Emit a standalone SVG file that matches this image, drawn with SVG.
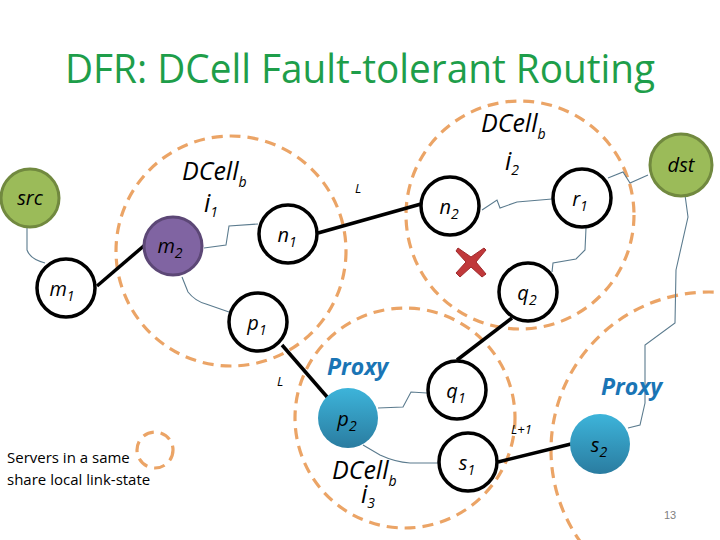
<svg xmlns="http://www.w3.org/2000/svg" width="720" height="540" viewBox="0 0 720 540">
<defs>
<linearGradient id="blueG" x1="0" y1="0" x2="0" y2="1">
<stop offset="0" stop-color="#3db4da"/>
<stop offset="1" stop-color="#2a7ca0"/>
</linearGradient>
<style>
.dash{fill:none;stroke:#eba466;stroke-width:3.2;stroke-dasharray:11 7}
.wire{fill:none;stroke:#5b7b8e;stroke-width:1.1}
.link{stroke:#000;stroke-width:3.5;fill:none}
.node{fill:#fff;stroke:#000;stroke-width:3.5}
.green{fill:#9bbb59;stroke:#71893f;stroke-width:3}
.purple{fill:#8064a2;stroke:#5c4776;stroke-width:3}
.blue{fill:url(#blueG)}
.lbl{font-family:"Open Sans","Liberation Sans",sans-serif;font-style:italic;font-size:20px;fill:#000}
.sub{font-size:14px}
.cell{font-family:"Open Sans","Liberation Sans",sans-serif;font-style:italic;font-size:25px;fill:#000}
.proxy{font-family:"Open Sans","Liberation Sans",sans-serif;font-style:italic;font-weight:bold;font-size:23px;fill:#1a75b5}
.small{font-family:"Open Sans","Liberation Sans",sans-serif;font-style:italic;font-size:13px;fill:#000}
.note{font-family:"Open Sans","Liberation Sans",sans-serif;font-size:15px;fill:#000}
</style>
</defs>
<rect width="720" height="540" fill="#fff"/>
<text x="360" y="83" text-anchor="middle" font-family="'Open Sans','Liberation Sans',sans-serif" font-size="40" fill="#1e9e4a" textLength="590" lengthAdjust="spacingAndGlyphs">DFR: DCell Fault-tolerant Routing</text>

<g id="cells">
<circle class="dash" cx="231" cy="251" r="115"/>
<circle class="dash" cx="520" cy="215" r="114"/>
<circle class="dash" cx="405" cy="418" r="110"/>
<circle class="dash" cx="709" cy="450" r="158"/>
<circle class="dash" cx="155" cy="450" r="18" stroke-dasharray="8 5"/>
</g>

<g id="connectors">
<line class="link" x1="97" y1="286" x2="146" y2="244"/>
<line class="link" x1="318" y1="233" x2="421" y2="204"/>
<line class="link" x1="282" y1="345" x2="328" y2="398"/>
<line class="link" x1="457" y1="360" x2="512" y2="318"/>
<line class="link" x1="498" y1="462" x2="571" y2="444"/>
<path class="wire" d="M27,227 L27,250 Q30,259 45,263"/>
<path class="wire" d="M204,248 L226,245 L229,226 L258,224"/>
<path class="wire" d="M182,277 L188,292 Q195,301 206,304 L229,312"/>
<path class="wire" d="M482,210 L497,200 L500,208 L517,202 L552,199"/>
<path class="wire" d="M586,228 L585,250 L576,259 L553,263 L552,272"/>
<path class="wire" d="M608,178 L623,172 L630,183 L648,175"/>
<path class="wire" d="M685,195 L688,217 L676,270 L675,323 L645,345 L645,403 L640,425 L628,428"/>
<path class="wire" d="M378,408 L403,407 L411,392 L427,393"/>
<path class="wire" d="M363,445 L380,455 Q395,462 410,463 L438,463"/>
</g>

<g id="src"><circle class="green" cx="30" cy="198" r="29"/><text class="lbl" x="30" y="205" text-anchor="middle">src</text></g>
<g id="m1"><circle class="node" cx="66" cy="288" r="29"/><text class="lbl" x="62" y="296" text-anchor="middle">m<tspan class="sub" dy="5">1</tspan></text></g>
<g id="m2"><circle class="purple" cx="173" cy="246" r="29"/><text class="lbl" x="170" y="253" text-anchor="middle">m<tspan class="sub" dy="5">2</tspan></text></g>
<g id="n1"><circle class="node" cx="288" cy="234" r="29"/><text class="lbl" x="287" y="242" text-anchor="middle">n<tspan class="sub" dy="5">1</tspan></text></g>
<g id="n2"><circle class="node" cx="450" cy="206" r="29"/><text class="lbl" x="449" y="214" text-anchor="middle">n<tspan class="sub" dy="5">2</tspan></text></g>
<g id="r1"><circle class="node" cx="582" cy="198" r="29"/><text class="lbl" x="580" y="206" text-anchor="middle">r<tspan class="sub" dy="5">1</tspan></text></g>
<g id="dst"><circle class="green" cx="681" cy="165" r="31"/><text class="lbl" x="681" y="172" text-anchor="middle">dst</text></g>
<g id="q2"><circle class="node" cx="528" cy="292" r="29"/><text class="lbl" x="527" y="300" text-anchor="middle">q<tspan class="sub" dy="5">2</tspan></text></g>
<g id="p1"><circle class="node" cx="258" cy="322" r="29"/><text class="lbl" x="257" y="330" text-anchor="middle">p<tspan class="sub" dy="5">1</tspan></text></g>
<g id="p2"><circle class="blue" cx="348" cy="418" r="30"/><text class="lbl" x="347" y="426" text-anchor="middle">p<tspan class="sub" dy="5">2</tspan></text></g>
<g id="q1"><circle class="node" cx="457" cy="390" r="29"/><text class="lbl" x="456" y="398" text-anchor="middle">q<tspan class="sub" dy="5">1</tspan></text></g>
<g id="s1"><circle class="node" cx="468" cy="462" r="29"/><text class="lbl" x="467" y="470" text-anchor="middle">s<tspan class="sub" dy="5">1</tspan></text></g>
<g id="s2"><circle class="blue" cx="600" cy="444" r="30"/><text class="lbl" x="599" y="452" text-anchor="middle" font-size="22">s<tspan class="sub" dy="5" font-size="15">2</tspan></text></g>

<g id="fault">
<path d="M458,248 L471,257 L484,248 L486,250 L476,262 L486,274 L482,277 L471,267 L460,277 L456,273 L466,262 L456,251 Z" fill="#c0383a" stroke="#a02a2c" stroke-width="1"/>
</g>

<g id="labels">
<text class="cell" x="182" y="180">DCell<tspan class="sub" dy="7">b</tspan></text>
<text class="cell" x="204" y="212">i<tspan class="sub" dy="5" font-size="16">1</tspan></text>
<text class="cell" x="481" y="132">DCell<tspan class="sub" dy="7">b</tspan></text>
<text class="cell" x="505" y="170">i<tspan class="sub" dy="5" font-size="16">2</tspan></text>
<text class="cell" x="332" y="479">DCell<tspan class="sub" dy="7">b</tspan></text>
<text class="cell" x="361" y="503">i<tspan class="sub" dy="5" font-size="16">3</tspan></text>
<text class="small" x="355" y="193">L</text>
<text class="small" x="277" y="386">L</text>
<text class="small" x="511" y="434">L+1</text>
<text class="proxy" x="327" y="375">Proxy</text>
<text class="proxy" x="601" y="395">Proxy</text>
<text class="note" x="7" y="463">Servers in a same</text>
<text class="note" x="7" y="485">share local link-state</text>
<text x="670" y="519" text-anchor="middle" font-family="'Liberation Sans',sans-serif" font-size="11" fill="#7f7f7f">13</text>
</g>
</svg>
